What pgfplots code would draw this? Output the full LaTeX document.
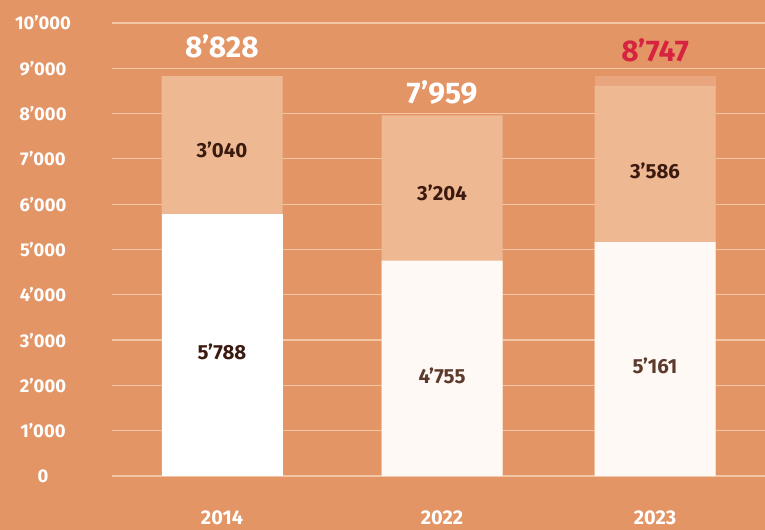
\documentclass[border=0pt]{standalone}
\usepackage{pgfplots}
\pgfplotsset{compat=1.18}
\usepackage{fontspec}
\setmainfont{Fira Sans}
\definecolor{bg}{HTML}{E39566}
\definecolor{peach}{HTML}{EDB892}
\definecolor{ghost}{HTML}{E9A57D}
\definecolor{gridc}{HTML}{F4C6A6}
\definecolor{offwhite}{HTML}{FEF9F5}
\definecolor{darklab}{HTML}{3B1A10}
\definecolor{midlab}{HTML}{5C3A2C}
\definecolor{redlab}{HTML}{D6233F}
\begin{document}
\begin{tikzpicture}
\fill[bg] (0,0) rectangle (765bp,530bp);
\useasboundingbox (0,0) rectangle (765bp,530bp);
\begin{axis}[
  at={(112bp,54bp)}, anchor=south west,
  scale only axis, width=653bp, height=453bp,
  xmin=112, xmax=765, ymin=0, ymax=10000,
  scaled y ticks=false,
  axis line style={draw=none}, major tick length=0pt,
  ymajorgrids, grid style={draw=gridc, line width=1.2bp},
  ytick={0,1000,2000,3000,4000,5000,6000,7000,8000,9000,10000},
  yticklabels={0,1’000,2’000,3’000,4’000,5’000,6’000,7’000,8’000,9’000,10’000},
  yticklabel style={anchor=center, xshift=-69bp, text=white, font=\fontsize{18.5}{18.5}\selectfont\bfseries},
  xtick={222,442,655}, xticklabels={2014,2022,2023},
  xticklabel style={anchor=center, yshift=-42bp, text=white, font=\fontsize{20}{20}\selectfont\bfseries},
  clip=false,
]
\addplot[ybar, bar shift=0pt, bar width=121, fill=ghost, draw=none] coordinates {(655,8828)};
\addplot[ybar, bar shift=0pt, bar width=121, fill=peach, draw=none] coordinates {(222,8828) (442,7959) (655,8610)};
\addplot[ybar, bar shift=0pt, bar width=121, fill=white, draw=none] coordinates {(222,5788)};
\addplot[ybar, bar shift=0pt, bar width=121, fill=offwhite, draw=none] coordinates {(442,4755) (655,5161)};
\node[font=\fontsize{20.5}{20.5}\selectfont\bfseries, text=darklab] at (axis cs:222,7196) {3’040};
\node[font=\fontsize{20.5}{20.5}\selectfont\bfseries, text=darklab] at (axis cs:222,2737) {5’788};
\node[font=\fontsize{20.5}{20.5}\selectfont\bfseries, text=darklab] at (axis cs:442,6247) {3’204};
\node[font=\fontsize{20.5}{20.5}\selectfont\bfseries, text=midlab] at (axis cs:442,2207) {4’755};
\node[font=\fontsize{20.5}{20.5}\selectfont\bfseries, text=darklab] at (axis cs:655,6733) {3’586};
\node[font=\fontsize{20.5}{20.5}\selectfont\bfseries, text=midlab] at (axis cs:655,2428) {5’161};
\node[font=\fontsize{30}{30}\selectfont\bfseries, text=white] at (axis cs:222,9492) {8’828};
\node[font=\fontsize{30}{30}\selectfont\bfseries, text=white] at (axis cs:442,8477) {7’959};
\node[font=\fontsize{30}{30}\selectfont\bfseries, text=redlab] at (axis cs:655,9404) {8’747};
\end{axis}
\end{tikzpicture}
\end{document}
